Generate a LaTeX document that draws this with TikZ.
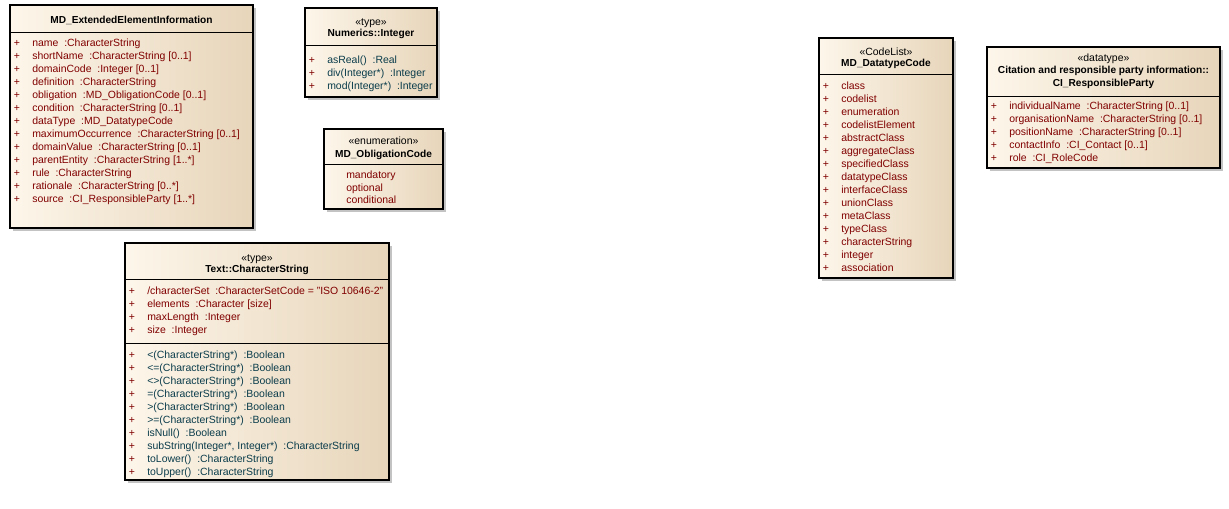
\documentclass[tikz,border=0pt]{standalone}
\usepackage{fontspec}
\setmainfont{Liberation Sans}
\definecolor{attrc}{RGB}{128,0,0}
\definecolor{opc}{RGB}{10,60,75}
\definecolor{boxl}{RGB}{253,246,234}
\definecolor{boxr}{RGB}{231,213,186}
\definecolor{shad}{RGB}{195,195,195}
\newcommand{\rowfont}{\fontsize{7.85}{9}\selectfont}
\newcommand{\boldfont}{\fontsize{7.6}{9}\selectfont\bfseries}
\tikzset{
  umlbox/.style={draw=black, line width=0.85pt, left color=boxl, right color=boxr},
  shadowbox/.style={fill=shad, draw=none},
  sepline/.style={draw=black, line width=0.75pt},
  row/.style={anchor=base west, inner sep=0pt, font=\rowfont},
  attr/.style={row, text=attrc},
  oper/.style={row, text=opc},
  plus/.style={anchor=base, inner sep=0pt, font=\rowfont, text=attrc},
  titletext/.style={anchor=base, inner sep=0pt, font=\boldfont},
  stereo/.style={anchor=base, inner sep=0pt, font=\rowfont}
}
\begin{document}
\begin{tikzpicture}[x=0.75pt,y=-0.75pt]
\path[use as bounding box, fill=white] (0,0) rectangle (1229,509);

% ---------- Box 1: MD_ExtendedElementInformation
\fill[shadowbox] (13,8) rectangle (256,231);
\path[umlbox] (10,5) rectangle (253,228);
\draw[sepline] (10,33) -- (253,33);
\node[titletext] (t1) at (131.5,23.5) {MD\_ExtendedElementInformation};
\foreach \t [count=\i from 0] in {
  {name~~:CharacterString},
  {shortName~~:CharacterString [0..1]},
  {domainCode~~:Integer [0..1]},
  {definition~~:CharacterString},
  {obligation~~:MD\_ObligationCode [0..1]},
  {condition~~:CharacterString [0..1]},
  {dataType~~:MD\_DatatypeCode},
  {maximumOccurrence~~:CharacterString [0..1]},
  {domainValue~~:CharacterString [0..1]},
  {parentEntity~~:CharacterString [1..*]},
  {rule~~:CharacterString},
  {rationale~~:CharacterString [0..*]},
  {source~~:CI\_ResponsibleParty [1..*]}} {
  \node[plus] (p1-\i) at (17,47+13*\i) {+};
  \node[attr] (a1-\i) at (32,47+13*\i) {\t};
}

% ---------- Box 2: Numerics::Integer
\fill[shadowbox] (308,11) rectangle (440,100);
\path[umlbox] (305,8) rectangle (437,97);
\draw[sepline] (305,46) -- (437,46);
\node[stereo] (s2) at (371,25.5) {«type»};
\node[titletext] (t2) at (371,37) {Numerics::Integer};
\foreach \t [count=\i from 0] in {
  {asReal()~~:Real},
  {div(Integer*)~~:Integer},
  {mod(Integer*)~~:Integer}} {
  \node[plus] (p2-\i) at (312,64+12.6*\i) {+};
  \node[oper] (o2-\i) at (327,64+12.6*\i) {\t};
}

% ---------- Box 3: MD_ObligationCode
\fill[shadowbox] (327,132) rectangle (446,212);
\path[umlbox] (324,129) rectangle (443,209);
\draw[sepline] (324,165) -- (443,165);
\node[stereo] (s3) at (383.5,144.5) {«enumeration»};
\node[titletext] (t3) at (383.5,158) {MD\_ObligationCode};
\foreach \t [count=\i from 0] in {mandatory,optional,conditional} {
  \node[attr] (a3-\i) at (346,179+12.3*\i) {\t};
}

% ---------- Box 4: Text::CharacterString
\fill[shadowbox] (128,246) rectangle (392,483);
\path[umlbox] (125,243) rectangle (389,480);
\draw[sepline] (125,280) -- (389,280);
\draw[sepline] (125,344) -- (389,344);
\node[stereo] (s4) at (257,261.5) {«type»};
\node[titletext] (t4) at (257,273) {Text::CharacterString};
\foreach \t [count=\i from 0] in {
  {/characterSet~~:CharacterSetCode = "ISO 10646-2"},
  {elements~~:Character [size]},
  {maxLength~~:Integer},
  {size~~:Integer}} {
  \node[plus] (p4-\i) at (132,295+13*\i) {+};
  \node[attr] (a4-\i) at (147,295+13*\i) {\t};
}
\foreach \t [count=\i from 0] in {
  {<(CharacterString*)~~:Boolean},
  {<=(CharacterString*)~~:Boolean},
  {<>(CharacterString*)~~:Boolean},
  {=(CharacterString*)~~:Boolean},
  {>(CharacterString*)~~:Boolean},
  {>=(CharacterString*)~~:Boolean},
  {isNull()~~:Boolean},
  {subString(Integer*, Integer*)~~:CharacterString},
  {toLower()~~:CharacterString},
  {toUpper()~~:CharacterString}} {
  \node[plus] (q4-\i) at (132,359+13*\i) {+};
  \node[oper] (o4-\i) at (147,359+13*\i) {\t};
}

% ---------- Box 5: MD_DatatypeCode
\fill[shadowbox] (822,41) rectangle (956,281);
\path[umlbox] (819,38) rectangle (953,278);
\draw[sepline] (819,75) -- (953,75);
\node[stereo] (s5) at (886,55.5) {«CodeList»};
\node[titletext] (t5) at (886,67) {MD\_DatatypeCode};
\foreach \t [count=\i from 0] in {class,codelist,enumeration,codelistElement,abstractClass,aggregateClass,specifiedClass,datatypeClass,interfaceClass,unionClass,metaClass,typeClass,characterString,integer,association} {
  \node[plus] (p5-\i) at (826,90+13*\i) {+};
  \node[attr] (a5-\i) at (841,90+13*\i) {\t};
}

% ---------- Box 6: CI_ResponsibleParty
\fill[shadowbox] (990,50) rectangle (1223,171);
\path[umlbox] (987,47) rectangle (1220,168);
\draw[sepline] (987,97) -- (1220,97);
\node[stereo] (s6) at (1103.5,61.5) {«datatype»};
\node[titletext] (t6a) at (1103.5,74) {Citation and responsible party information::};
\node[titletext] (t6b) at (1103.5,87) {CI\_ResponsibleParty};
\foreach \t [count=\i from 0] in {
  {individualName~~:CharacterString [0..1]},
  {organisationName~~:CharacterString [0..1]},
  {positionName~~:CharacterString [0..1]},
  {contactInfo~~:CI\_Contact [0..1]},
  {role~~:CI\_RoleCode}} {
  \node[plus] (p6-\i) at (994,110+13*\i) {+};
  \node[attr] (a6-\i) at (1009,110+13*\i) {\t};
}
\end{tikzpicture}
\end{document}
